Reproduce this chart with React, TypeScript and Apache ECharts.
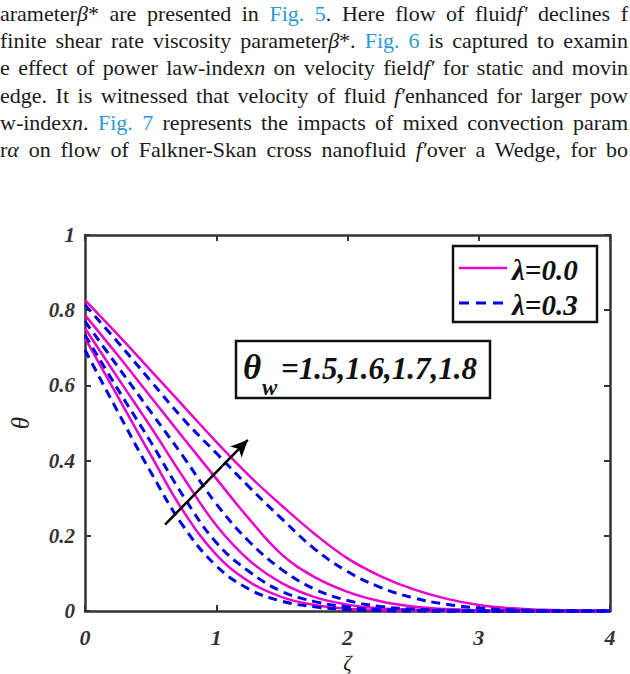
import React, { useEffect, useRef } from "react";
import * as echarts from "echarts";

// ---- data ----
const ZETA = [0, 0.25, 0.5, 0.75, 1, 1.25, 1.5, 1.75, 2, 2.25, 2.5, 2.75, 3, 3.25, 3.5, 3.75, 4];

// lambda = 0.0 (solid magenta), theta_w = 1.5 .. 1.8
const M1 = [0.726, 0.57, 0.415, 0.265, 0.15, 0.078, 0.037, 0.016, 0.006, 0.002, 0.001, 0, 0, 0, 0, 0, 0];
const M2 = [0.752, 0.62, 0.49, 0.355, 0.228, 0.135, 0.074, 0.037, 0.017, 0.007, 0.003, 0.001, 0, 0, 0, 0, 0];
const M3 = [0.787, 0.68, 0.57, 0.46, 0.352, 0.245, 0.15, 0.09, 0.051, 0.026, 0.012, 0.005, 0.002, 0.001, 0, 0, 0];
const M4 = [0.827, 0.735, 0.64, 0.545, 0.45, 0.36, 0.28, 0.205, 0.14, 0.093, 0.058, 0.033, 0.016, 0.007, 0.003, 0.001, 0];
// lambda = 0.3 (dashed blue)
const B1 = [0.694, 0.53, 0.37, 0.225, 0.12, 0.058, 0.026, 0.011, 0.004, 0.001, 0, 0, 0, 0, 0, 0, 0];
const B2 = [0.734, 0.59, 0.45, 0.305, 0.182, 0.105, 0.052, 0.025, 0.011, 0.004, 0.002, 0, 0, 0, 0, 0, 0];
const B3 = [0.77, 0.65, 0.53, 0.41, 0.285, 0.185, 0.11, 0.058, 0.028, 0.012, 0.005, 0.002, 0, 0, 0, 0, 0];
const B4 = [0.814, 0.715, 0.612, 0.51, 0.42, 0.33, 0.245, 0.165, 0.105, 0.063, 0.035, 0.018, 0.008, 0.003, 0.001, 0, 0];

const X_TICK_LABELS = ["0", "1", "2", "3", "4"];
const Y_TICK_LABELS = ["0", "0.2", "0.4", "0.6", "0.8", "1"];
const LEGEND_LABELS = ["λ=0.0", "λ=0.3"];
const THETA_W_VALUES = "=1.5,1.6,1.7,1.8";
const ARROW_FROM = [0.61, 0.23];
const ARROW_TO = [1.24, 0.455];

const PARAGRAPH_LINES: [string, string][][] = [
  [["n", "arameter"], ["i", "β"], ["n", "* are presented in "], ["b", "Fig. 5"], ["n", ". Here flow of fluid"], ["i", "f′"], ["n", " declines f"]],
  [["n", "finite shear rate viscosity parameter"], ["i", "β"], ["n", "*. "], ["b", "Fig. 6"], ["n", " is captured to examin"]],
  [["n", "e effect of power law-index"], ["i", "n"], ["n", " on velocity field"], ["i", "f′"], ["n", " for static and movin"]],
  [["n", "edge. It is witnessed that velocity of fluid "], ["i", "f′"], ["n", "enhanced for larger pow"]],
  [["n", "w-index"], ["i", "n"], ["n", ". "], ["b", "Fig. 7"], ["n", " represents the impacts of mixed convection param"]],
  [["n", "r"], ["i", "α"], ["n", " on flow of Falkner-Skan cross nanofluid "], ["i", "f′"], ["n", "over a Wedge, for bo"]],
];

const MAGENTA = "#ea00cc";
const BLUE = "#0000e6";
const AXIS = "#333333";
const SERIF = "Liberation Serif";

function pairs(ys: number[]) {
  return ZETA.map((x, i) => [x, ys[i]]);
}

function solid(name: string, ys: number[]) {
  return {
    name, type: "line", data: pairs(ys), showSymbol: false, smooth: 0.4,
    clip: false, lineStyle: { color: MAGENTA, width: 2.5, type: "solid" }, z: 3,
  };
}
function dashed(name: string, ys: number[]) {
  return {
    name, type: "line", data: pairs(ys), showSymbol: false, smooth: 0.4,
    clip: false, lineStyle: { color: BLUE, width: 3, type: [9, 6] }, z: 4,
  };
}

const tickFont = { fontFamily: SERIF, fontStyle: "italic", fontWeight: "bold", fontSize: 22, color: AXIS };

function txt(x: number, y: number, text: string, size: number, weight = "bold") {
  return {
    type: "text", x, y, z: 11,
    style: { text, fontFamily: SERIF, fontStyle: "italic", fontWeight: weight, fontSize: size, fill: "#111", verticalAlign: "middle" },
  };
}

export default function App() {
  const ref = useRef<HTMLDivElement>(null);
  useEffect(() => {
    if (!ref.current) return;
    const chart = echarts.init(ref.current, undefined, { renderer: "svg" });
    const axisLine = { show: true, onZero: false, lineStyle: { color: AXIS, width: 2.5 } };
    const axisTick = { show: true, inside: true, length: 6, lineStyle: { color: AXIS, width: 2 } };
    const option: any = {
      animation: false,
      backgroundColor: "transparent",
      grid: { left: 85, top: 235, width: 525, height: 376, containLabel: false, outerBoundsMode: "none" },
      xAxis: [
        {
          type: "value", min: 0, max: 4, interval: 1, position: "bottom",
          axisLine, axisTick, splitLine: { show: false },
          axisLabel: { ...tickFont, margin: 15, formatter: (v: number) => X_TICK_LABELS[Math.round(v)] },
          name: "ζ", nameLocation: "middle", nameGap: 33,
          nameTextStyle: { fontFamily: SERIF, fontStyle: "italic", fontSize: 21, lineHeight: 20, color: "#222" },
        },
        {
          type: "value", min: 0, max: 4, interval: 1, position: "top",
          axisLine, axisTick, splitLine: { show: false }, axisLabel: { show: false },
        },
      ],
      yAxis: [
        {
          type: "value", min: 0, max: 1, interval: 0.2, position: "left",
          axisLine, axisTick, splitLine: { show: false },
          axisLabel: { ...tickFont, fontSize: 21, margin: 10, formatter: (v: number) => Y_TICK_LABELS[Math.round(v * 5)] },
          name: "θ", nameLocation: "middle", nameGap: 52, nameRotate: 90,
          nameTextStyle: { fontFamily: SERIF, fontStyle: "italic", fontSize: 25, color: "#222" },
        },
        {
          type: "value", min: 0, max: 1, interval: 0.2, position: "right",
          axisLine, axisTick, splitLine: { show: false }, axisLabel: { show: false },
        },
      ],
      series: [
        solid("M1", M1), dashed("B1", B1),
        solid("M2", M2), dashed("B2", B2),
        solid("M3", M3), dashed("B3", B3),
        solid("M4", M4), dashed("B4", B4),
        {
          name: "arrow", type: "line", data: [], showSymbol: false,
          markLine: {
            silent: true, animation: false, symbol: ["none", "arrow"], symbolSize: [12, 17],
            label: { show: false },
            lineStyle: { color: "#000", width: 2.5, type: "solid" },
            data: [[{ coord: ARROW_FROM }, { coord: ARROW_TO }]],
          },
          z: 5,
        },
      ],
      graphic: [
        // legend
        { type: "rect", shape: { x: 453, y: 246, width: 144, height: 76 }, style: { fill: "#fff", stroke: "#111", lineWidth: 2.5 }, z: 10 },
        { type: "line", shape: { x1: 459, y1: 268, x2: 507, y2: 268 }, style: { stroke: MAGENTA, lineWidth: 2.5 }, z: 11 },
        { type: "line", shape: { x1: 459, y1: 303, x2: 507, y2: 303 }, style: { stroke: BLUE, lineWidth: 3, lineDash: [10, 7] }, z: 11 },
        txt(512, 270, LEGEND_LABELS[0], 29),
        txt(512, 305, LEGEND_LABELS[1], 29),
        // theta_w annotation
        { type: "rect", shape: { x: 236, y: 341, width: 254, height: 57 }, style: { fill: "#fff", stroke: "#111", lineWidth: 2.5 }, z: 10 },
        txt(243, 367, "θ", 35),
        txt(262, 387, "w", 23),
        txt(281, 368, THETA_W_VALUES, 31),
      ],
    };
    chart.setOption(option);
    return () => chart.dispose();
  }, []);

  return (
    <div style={{ position: "absolute", left: 0, top: 0, width: 630, height: 674, overflow: "hidden", background: "#fff" }}>
      <div ref={ref} style={{ position: "absolute", left: 0, top: 0, width: 630, height: 674 }} />
      {PARAGRAPH_LINES.map((segs, li) => (
        <div
          key={li}
          style={{
            position: "absolute", left: 0, top: 20 + li * 27.3 - 18.4, width: 628, height: 24,
            fontFamily: SERIF, fontSize: 22, lineHeight: "24px", color: "#1a1a1a",
            whiteSpace: "nowrap", textAlign: "justify", textAlignLast: "justify" as any,
          }}
        >
          {segs.map(([k, t], si) => (
            <span key={si} style={{ fontStyle: k === "i" ? "italic" : "normal", color: k === "b" ? "#2b9bd6" : undefined }}>{t}</span>
          ))}
        </div>
      ))}
    </div>
  );
}
